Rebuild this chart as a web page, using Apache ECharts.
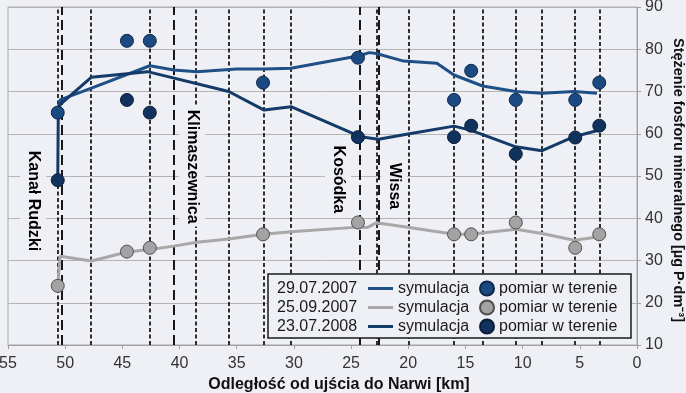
<!DOCTYPE html>
<html><head><meta charset="utf-8">
<script src="https://cdn.jsdelivr.net/npm/echarts@6/dist/echarts.min.js"></script>
<style>html,body{margin:0;padding:0;background:#eef0f5}#c{width:686px;height:393px}</style>
</head><body><div id="c"></div>
<script>
// ---- data ----
const dates = ['29.07.2007', '25.09.2007', '23.07.2008'];
const simName = 'symulacja';
const obsName = 'pomiar w terenie';

const sim1Km  = [50.65, 50.45, 47.7, 42.6, 40.5, 38.5, 35, 32.6, 30.25, 24.4, 23.4, 22.8, 20.4, 17.5, 16, 13.5, 10.6, 8.3, 5.5, 3.5];
const sim1Val = [65, 68, 70.8, 76.1, 75.1, 74.7, 75.3, 75.3, 75.5, 78.4, 79.2, 79, 77.2, 76.7, 73.9, 71.3, 70, 69.6, 70, 69.6];

const sim2Km  = [50.65, 50.45, 47.7, 44.6, 42.6, 40.5, 38.5, 35.7, 32.7, 30.25, 24.4, 23.6, 22.8, 22.5, 19.9, 16, 14.5, 10.6, 8.3, 5.5, 3.3];
const sim2Val = [24, 31, 29.9, 32, 32.6, 33.4, 34.3, 35.1, 36.2, 36.8, 37.9, 37.8, 38.9, 38.8, 37.8, 36.2, 36.2, 37.4, 36.4, 34.8, 35.6];

const sim3Km  = [50.65, 50.6, 50.4, 47.7, 42.8, 35.7, 32.6, 30.25, 24.2, 22.6, 19.9, 16, 14.5, 10.6, 8.3, 5.5, 3.3];
const sim3Val = [49, 66, 67, 73.4, 74.7, 70, 65.6, 66.4, 59.3, 58.7, 60, 61.8, 60.8, 56.9, 56, 59.3, 60.9];

const obs1Km  = [50.65, 44.6, 42.6, 32.7, 24.4, 16, 14.5, 10.6, 5.4, 3.3];
const obs1Val = [65, 82, 82, 72.1, 78, 68, 74.9, 68, 68, 72.1];

const obs2Km  = [50.65, 44.6, 42.6, 32.7, 24.4, 16, 14.5, 10.6, 5.4, 3.3];
const obs2Val = [24, 32.1, 33, 36.2, 39, 36.2, 36.2, 39, 33, 36.2];

const obs3Km  = [50.65, 44.6, 42.6, 24.4, 16, 14.5, 10.6, 5.4, 3.3];
const obs3Val = [49, 68, 65, 59.2, 59.2, 61.9, 55.2, 59.1, 61.9];

const dottedKm = [50.65, 47.74, 42.6, 38.56, 35.74, 32.6, 30.25, 22.76, 19.94, 16.0, 13.5, 10.58, 8.33, 5.45, 3.3];
const dashedKm = [50.3, 40.5, 24.2, 22.6];

const placeNames = ['Kanał Rudzki', 'Klimaszewnica', 'Kosódka', 'Wissa'];
const placeKm    = [52.8, 38.9, 26.15, 21.25];
const placeVal   = [44.1, 52.2, 49.2, 47.6];

const xMin = 0, xMax = 55, xStep = 5;
const yMin = 10, yMax = 90, yStep = 10;
const xTitle = 'Odległość od ujścia do Narwi [km]';
const yTitle = 'Stężenie fosforu mineralnego [µg P·dm⁻³]';

// ---- styles ----
const BG = '#eef0f5';
const FONT = '"Liberation Sans", Arial, sans-serif';
const lineColors = ['#1f4f87', '#a8a8a8', '#143a68'];
const dotColors  = ['#1b4a82', '#a3a3a3', '#11325c'];
const dotBorders = ['#0c2748', '#505050', '#0a1e3a'];

const zip = (a, b) => a.map((v, i) => [v, b[i]]);
const simKm = [sim1Km, sim2Km, sim3Km], simVal = [sim1Val, sim2Val, sim3Val];
const obsKm = [obs1Km, obs2Km, obs3Km], obsVal = [obs1Val, obs2Val, obs3Val];

const series = [];
// vertical reference lines
series.push({
  type: 'line', name: 'ref', data: [], z: 1, silent: true,
  markLine: {
    z: 1, silent: true, symbol: 'none', label: { show: false }, animation: false,
    data: dottedKm.map(v => ({ xAxis: v, lineStyle: { color: '#000', type: [4, 2.5], width: 1.6 } }))
      .concat(dashedKm.map(v => ({ xAxis: v, lineStyle: { color: '#000', type: [10, 5], width: 1.8 } })))
  }
});
for (let i = 0; i < 3; i++) {
  series.push({
    type: 'line', name: dates[i], data: zip(simKm[i], simVal[i]),
    symbol: 'none', z: 3, animation: false,
    lineStyle: { color: lineColors[i], width: 3 }, itemStyle: { color: lineColors[i] }
  });
}
for (let i = 0; i < 3; i++) {
  series.push({
    type: 'scatter', name: obsName + ' ' + dates[i], data: zip(obsKm[i], obsVal[i]),
    symbol: 'circle', symbolSize: 13, z: 4, animation: false,
    itemStyle: { color: dotColors[i], borderColor: dotBorders[i], borderWidth: 1, opacity: 1 }
  });
}

const legendCommon = {
  orient: 'vertical', top: 279, itemGap: 0, padding: 0, selectedMode: false, z: 60,
  textStyle: { fontSize: 16, lineHeight: 19, color: '#1a1a1a', fontFamily: FONT }
};

const chart = echarts.init(document.getElementById('c'), null, { renderer: 'canvas' });
const option = {
  backgroundColor: BG,
  animation: false,
  textStyle: { fontFamily: FONT },
  grid: {
    left: 8, right: 49, top: 7, bottom: 48, show: true, borderColor: '#a8a8a8', borderWidth: 1,
    backgroundColor: BG, containLabel: false, outerBoundsMode: 'none'
  },
  xAxis: {
    type: 'value', inverse: true, min: xMin, max: xMax, interval: xStep,
    name: xTitle, nameLocation: 'middle', nameGap: 25,
    nameTextStyle: { fontSize: 16, fontWeight: 'bold', color: '#111', padding: [0, 0, 0, 33] },
    axisLine: { lineStyle: { color: '#a0a0a0', width: 1 } },
    axisTick: { show: true, length: 4, lineStyle: { color: '#a0a0a0' } },
    axisLabel: { fontSize: 16, color: '#333', margin: 11 },
    splitLine: { show: false }
  },
  yAxis: {
    type: 'value', position: 'right', min: yMin, max: yMax, interval: yStep,
    axisLine: { show: true, lineStyle: { color: '#a0a0a0', width: 1 } },
    axisTick: { show: true, length: 4, lineStyle: { color: '#a0a0a0' } },
    axisLabel: { fontSize: 16, color: '#333', margin: 8 },
    splitLine: { show: true, lineStyle: { color: '#b4b4b4', width: 1 } }
  },
  legend: [
    Object.assign({}, legendCommon, {
      left: 272, data: dates, icon: 'rect', itemWidth: 0, itemHeight: 0,
      itemStyle: { opacity: 0 }
    }),
    Object.assign({}, legendCommon, {
      left: 368, data: dates, icon: 'rect', itemWidth: 25, itemHeight: 3,
      formatter: () => simName
    }),
    Object.assign({}, legendCommon, {
      left: 479, data: dates.map(d => obsName + ' ' + d), icon: 'circle', itemWidth: 14, itemHeight: 14,
      formatter: () => obsName
    })
  ],
  graphic: [{
    type: 'rect', z: 50, silent: true,
    shape: { x: 268, y: 274, width: 363, height: 64 },
    style: { fill: BG, stroke: '#1a1a1a', lineWidth: 1.5 }
  }],
  series: series
};
chart.setOption(option);

// place labels (tributaries) at data coordinates
const labelGraphics = placeNames.map((name, i) => {
  const p = chart.convertToPixel({ xAxisIndex: 0, yAxisIndex: 0 }, [placeKm[i], placeVal[i]]);
  return {
    type: 'text', z: 40, silent: true, x: p[0], y: p[1], rotation: -Math.PI / 2,
    style: {
      text: name, fill: '#000', font: 'bold 16px ' + FONT,
      align: 'center', verticalAlign: 'middle',
      backgroundColor: BG, padding: [5, 3, 5, 3]
    }
  };
});
// right axis title, placed relative to the right axis line
const axisRight = chart.convertToPixel({ xAxisIndex: 0 }, xMin);
const midY = chart.convertToPixel({ yAxisIndex: 0 }, (yMin + yMax) / 2);
labelGraphics.push({
  type: 'text', z: 40, silent: true, x: axisRight + 41, y: midY + 4, rotation: -Math.PI / 2,
  style: {
    text: yTitle, fill: '#111', font: 'bold 14.5px ' + FONT,
    align: 'center', verticalAlign: 'middle'
  }
});
chart.setOption({ graphic: option.graphic.concat(labelGraphics) });
</script>
</body></html>
